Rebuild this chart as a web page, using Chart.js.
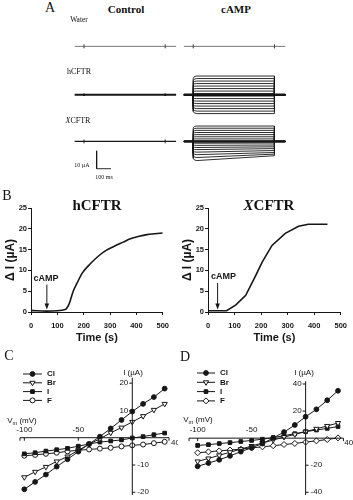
<!DOCTYPE html>
<html>
<head>
<meta charset="utf-8">
<script src="https://cdn.jsdelivr.net/npm/chart.js@4.4.1/dist/chart.umd.min.js"></script>
<style>
body{margin:0;width:353px;height:500px;background:#fff;position:relative;overflow:hidden;font-family:"Liberation Sans",Arial,sans-serif;color:#111}
canvas{position:absolute}
.t{position:absolute;white-space:nowrap;line-height:1;transform:translate(-50%,-50%)}
.s{font-family:"Liberation Serif","Times New Roman",serif}
.b{font-weight:bold}
sub{font-size:70%;vertical-align:-2px}
</style>
</head>
<body>
<canvas id="traces" width="240" height="170" style="left:60px;top:15px"></canvas>
<canvas id="timeH" width="174" height="145" style="left:1px;top:200px"></canvas>
<canvas id="timeX" width="175" height="145" style="left:178px;top:200px"></canvas>
<canvas id="ivC" width="178" height="155" style="left:0px;top:345px"></canvas>
<canvas id="ivD" width="175" height="155" style="left:178px;top:345px"></canvas>

<div class="t s" style="left:50px;top:8px;font-size:14px">A</div>
<div class="t s b" style="left:126px;top:9px;font-size:11px">Control</div>
<div class="t s b" style="left:236px;top:9px;font-size:11px">cAMP</div>
<div class="t s" style="left:79px;top:20px;font-size:7.5px">Water</div>
<div class="t s" style="left:79px;top:72px;font-size:8px">hCFTR</div>
<div class="t s" style="left:78px;top:121px;font-size:8px"><i>X</i>CFTR</div>
<div class="t s" style="left:82px;top:165px;font-size:6px">10 µA</div>
<div class="t s" style="left:104px;top:177px;font-size:6px">100 ms</div>

<div class="t s" style="left:7px;top:196px;font-size:14px">B</div>
<div class="t s b" style="left:97px;top:205px;font-size:15px">hCFTR</div>
<div class="t s b" style="left:269px;top:205px;font-size:15px"><i>X</i>CFTR</div>

<div class="t s" style="left:9px;top:356px;font-size:14px">C</div>
<div class="t s" style="left:185px;top:357px;font-size:14px">D</div>
<div class="t" style="left:133px;top:373px;font-size:8px">I (µA)</div>
<div class="t" style="left:304px;top:373px;font-size:8px">I (µA)</div>
<div class="t" style="left:22px;top:422px;font-size:8px">V<sub>m</sub> (mV)</div>
<div class="t" style="left:198px;top:421px;font-size:8px">V<sub>m</sub> (mV)</div>

<script>
// ---- panel A: voltage-clamp sweeps (ms, µA) ----
var sweepMs = [0, 706];
var pulseMs = [65, 630];
var hcftrStart = [10.5, 9.1, 7.7, 6.3, 4.9, 3.5, 2.1, 0.7, -0.7, -2.1, -3.5, -4.9, -6.3, -7.7, -9.1, -10.5];
var hcftrEnd   = [10.5, 9.1, 7.7, 6.3, 4.9, 3.5, 2.1, 0.7, -0.7, -2.1, -3.5, -4.9, -6.3, -7.7, -9.1, -10.5];
var xcftrStart = [8.6, 7.4, 6.2, 5.0, 3.8, 2.6, 1.4, 0.2, -1.0, -2.2, -3.4, -4.6, -6.0, -7.4, -9.0, -10.7];
var xcftrEnd   = [8.6, 7.4, 6.2, 5.0, 3.8, 2.6, 1.4, 0.2, -0.9, -2.0, -3.0, -4.0, -5.1, -6.2, -7.1, -8.0];
var scaleBarUA = 10;
var scaleBarMs = 100;

// ---- panel B: current vs time ----
var hcftrTime = [0, 60, 130, 145, 160, 175, 195, 225, 255, 285, 316, 350, 377, 410, 440, 470, 500];
var hcftrCurrent = [0.4, 0.2, 0.6, 2.0, 5.0, 7.0, 9.4, 11.6, 13.4, 14.8, 15.8, 16.8, 17.6, 18.2, 18.6, 18.8, 19.0];
var xcftrTime = [0, 70, 105, 142, 179, 204, 241, 291, 341, 378, 450];
var xcftrCurrent = [0.3, 0.3, 1.7, 4.0, 8.7, 12.0, 16.0, 18.9, 20.6, 21.1, 21.1];
var timeTicks = [0, 100, 200, 300, 400, 500];
var currentTicks = [0, 5, 10, 15, 20, 25];

// ---- panels C and D: I-V relations ----
var vm = [-100, -90, -80, -70, -60, -50, -40, -30, -20, -10, 0, 10, 20, 30];
var ionNames = ['Cl', 'Br', 'I', 'F'];
var clC = [-18.9, -16.2, -13.5, -10.6, -7.9, -5.1, -2.3, 0.4, 3.4, 6.5, 9.6, 12.4, 14.9, 18.0];
var brC = [-14.5, -12.5, -10.7, -8.7, -6.9, -4.6, -2.4, -0.4, 1.8, 3.7, 5.8, 7.9, 10.2, 12.4];
var iC  = [-5.9, -5.5, -4.9, -4.4, -3.9, -3.1, -2.3, -1.6, -1.2, -0.8, -0.1, 0.4, 1.1, 1.7];
var fC  = [-6.6, -6.3, -5.9, -5.5, -5.0, -4.6, -4.3, -4.0, -3.7, -3.2, -2.8, -2.5, -2.0, -1.5];
var clD = [-20.8, -18.4, -16.0, -13.1, -10.0, -7.1, -4.0, 0.1, 4.5, 9.7, 15.8, 21.3, 28.0, 35.0];
var brD = [-17.2, -15.0, -12.7, -10.4, -8.1, -5.8, -3.6, -1.4, 0.8, 2.8, 4.8, 6.9, 9.0, 11.2];
var iD  = [-5.4, -4.8, -4.0, -3.3, -2.5, -1.7, -0.8, 0.4, 1.8, 3.3, 4.8, 6.0, 7.2, 8.6];
var fD  = [-10.8, -10.1, -9.4, -8.8, -8.1, -7.2, -6.4, -5.6, -4.7, -3.9, -2.9, -2.0, -1.0, 0.2];
var vTickLabels = [-100, -50];
var iTickLabelsC = [20, 10, -10, -20];
var iTickLabelsD = [40, 20, -20, -40];
var vEndLabel = 40;

var INK = '#161616';
var off = {legend: {display: false}, tooltip: {enabled: false}};

// ---------- A ----------
var ctrlOffset = 67, campOffset = 827;
var rowBase = {water: -14.74, h: -41.84, x: -67.9};

function flat(offset, base) {
  return [{x: offset + sweepMs[0], y: base}, {x: offset + sweepMs[1], y: base}];
}
function step(offset, base, a, b) {
  var on = offset + pulseMs[0], end = offset + pulseMs[1];
  return [
    {x: offset + sweepMs[0], y: base},
    {x: on, y: base},
    {x: on, y: base + a * 0.88},
    {x: on + 8, y: base + a * 0.97},
    {x: on + 25, y: base + a},
    {x: end, y: base + b},
    {x: end, y: base},
    {x: offset + sweepMs[1], y: base}
  ];
}
function marks(offset, base) {
  return [{x: offset + pulseMs[0], y: base}, {x: offset + pulseMs[1], y: base}];
}

var aSets = [];
function addLine(data, w, col, extra) {
  var d = {data: data, borderColor: col || INK, borderWidth: w, pointRadius: 0, fill: false, clip: false};
  for (var k in extra) d[k] = extra[k];
  aSets.push(d);
}
var tick = {showLine: false, pointStyle: 'line', pointRotation: 90, pointRadius: 2, pointBorderWidth: 1, pointBorderColor: '#333'};
// water rows
addLine(flat(ctrlOffset, rowBase.water), 0.8, '#555');
addLine(flat(campOffset, rowBase.water), 0.8, '#555');
addLine(marks(ctrlOffset, rowBase.water), 0, '#333', tick);
addLine(marks(campOffset, rowBase.water), 0, '#333', tick);
// control rows
addLine(flat(ctrlOffset, rowBase.h), 2);
addLine(flat(ctrlOffset, rowBase.x), 1.3);
addLine(marks(ctrlOffset, rowBase.h), 0, INK, {showLine: false, pointRadius: 1.3, pointBackgroundColor: INK, pointBorderWidth: 0});
addLine(marks(ctrlOffset, rowBase.x), 0, INK, tick);
// cAMP step families
hcftrStart.forEach(function (a, i) { addLine(step(campOffset, rowBase.h, a, hcftrEnd[i]), 0.9); });
xcftrStart.forEach(function (a, i) { addLine(step(campOffset, rowBase.x, a, xcftrEnd[i]), 0.9); });
addLine(flat(campOffset, rowBase.h), 2.6);
addLine(flat(campOffset, rowBase.x), 2.6);
// scale bar
var sbX = 220, sbY = -83.16;
addLine([{x: sbX, y: sbY + scaleBarUA}, {x: sbX, y: sbY}, {x: sbX + scaleBarMs, y: sbY}], 0.9);

new Chart(document.getElementById('traces'), {
  type: 'line',
  data: {datasets: aSets},
  options: {
    responsive: false, animation: false, events: [],
    layout: {padding: 0},
    scales: {
      x: {type: 'linear', display: false, min: 0, max: 1600},
      y: {type: 'linear', display: false, min: -89.47, max: 0}
    },
    elements: {line: {tension: 0}},
    plugins: off
  }
});

// ---------- B ----------
var campArrow = {
  id: 'campArrow',
  afterDatasetsDraw: function (chart, args, o) {
    var ctx = chart.ctx, x = chart.scales.x, y = chart.scales.y;
    var px = x.getPixelForValue(o.at);
    var top = y.getPixelForValue(o.from), tip = y.getPixelForValue(o.to);
    ctx.save();
    ctx.strokeStyle = INK; ctx.fillStyle = INK; ctx.lineWidth = 1;
    ctx.beginPath(); ctx.moveTo(px, top); ctx.lineTo(px, tip - 4); ctx.stroke();
    ctx.beginPath(); ctx.moveTo(px, tip); ctx.lineTo(px - 2.3, tip - 6); ctx.lineTo(px + 2.3, tip - 6); ctx.closePath(); ctx.fill();
    ctx.font = 'bold 9px "Liberation Sans", Arial';
    ctx.textAlign = 'center'; ctx.textBaseline = 'middle';
    ctx.fillText('cAMP', x.getPixelForValue(o.textAt), y.getPixelForValue(o.textY));
    ctx.restore();
  }
};

function timeChart(id, t, v, padRight, arrow, smooth) {
  var tickFont = {family: '"Liberation Sans", Arial', size: 7.5, weight: 'bold'};
  new Chart(document.getElementById(id), {
    type: 'line',
    data: {datasets: [{
      data: t.map(function (tt, i) { return {x: tt, y: v[i]}; }),
      borderColor: INK, borderWidth: 1.6, pointRadius: 0, fill: false,
      cubicInterpolationMode: smooth ? 'monotone' : 'default', tension: 0
    }]},
    options: {
      responsive: false, animation: false, events: [],
      layout: {padding: {left: 2.3, right: padRight, top: 8, bottom: 0}},
      scales: {
        x: {
          type: 'linear', min: 0, max: 500,
          afterFit: function (s) { s.height = 33; },
          afterBuildTicks: function (s) { s.ticks = timeTicks.map(function (x) { return {value: x}; }); },
          ticks: {font: tickFont, color: INK, padding: 6, maxRotation: 0},
          grid: {drawOnChartArea: false, tickLength: 3, color: INK},
          border: {color: INK, width: 1},
          title: {display: true, text: 'Time (s)', color: INK, padding: 0,
                  font: {family: '"Liberation Sans", Arial', size: 11, weight: 'bold'}}
        },
        y: {
          type: 'linear', min: 0, max: 25,
          afterBuildTicks: function (s) { s.ticks = currentTicks.map(function (y) { return {value: y}; }); },
          ticks: {font: tickFont, color: INK, padding: 1, autoSkip: false},
          grid: {drawOnChartArea: false, tickLength: 3, color: INK},
          border: {color: INK, width: 1},
          title: {display: true, text: 'Δ I (µA)', color: INK, padding: 0,
                  font: {family: '"Liberation Sans", Arial', size: 12, weight: 'bold'}}
        }
      },
      plugins: {legend: {display: false}, tooltip: {enabled: false}, campArrow: arrow}
    },
    plugins: [campArrow]
  });
}
timeChart('timeH', hcftrTime, hcftrCurrent, 7, {at: 60, from: 6.6, to: 0.6, textAt: 57, textY: 8.1}, true);
timeChart('timeX', xcftrTime, xcftrCurrent, 12, {at: 36, from: 7.0, to: 0.6, textAt: 58, textY: 8.6}, false);

// ---------- C, D ----------
var crossAxes = {
  id: 'crossAxes',
  afterDraw: function (chart, args, o) {
    var ctx = chart.ctx, x = chart.scales.x, y = chart.scales.y;
    var x0 = x.getPixelForValue(0), y0 = y.getPixelForValue(0);
    ctx.save();
    ctx.strokeStyle = INK; ctx.fillStyle = INK; ctx.lineWidth = 1;
    ctx.beginPath();
    ctx.moveTo(x.left, y0); ctx.lineTo(x.right, y0);
    ctx.moveTo(x0, y.top); ctx.lineTo(x0, y.bottom);
    o.vTicks.forEach(function (v) { var p = x.getPixelForValue(v); ctx.moveTo(p, y0); ctx.lineTo(p, y0 + 3); });
    ctx.moveTo(x.left, y0); ctx.lineTo(x.left, y0 + 3);
    ctx.moveTo(x.right, y0); ctx.lineTo(x.right, y0 + 3);
    o.iTicks.forEach(function (v) {
      var p = y.getPixelForValue(v);
      ctx.moveTo(x0, p); ctx.lineTo(v > 0 ? x0 - 3 : x0 + 3, p);
    });
    ctx.stroke();
    ctx.font = '8px "Liberation Sans", Arial';
    ctx.textBaseline = 'middle';
    ctx.textAlign = 'center';
    o.vTicks.forEach(function (v) { ctx.fillText(String(v), x.getPixelForValue(v), y0 - 8); });
    ctx.fillText(String(o.vEnd), x.getPixelForValue(o.vEnd), y0 + 5);
    o.iTicks.forEach(function (v) {
      var p = y.getPixelForValue(v);
      if (v > 0) { ctx.textAlign = 'right'; ctx.fillText(String(v), x0 - 4, p); }
      else { ctx.textAlign = 'left'; ctx.fillText(String(v), x0 + 5, p); }
    });
    ctx.restore();
  }
};

var ivLegend = {
  id: 'ivLegend',
  afterDraw: function (chart, args, o) {
    var ctx = chart.ctx;
    chart.data.datasets.forEach(function (ds, i) {
      var y = o.top + i * o.gap, cx = o.left + o.len / 2;
      ctx.save();
      ctx.strokeStyle = INK; ctx.lineWidth = 1;
      ctx.beginPath(); ctx.moveTo(o.left, y); ctx.lineTo(o.left + o.len, y); ctx.stroke();
      ctx.fillStyle = ds.pointBackgroundColor;
      if (Chart.helpers && Chart.helpers.drawPoint) {
        Chart.helpers.drawPoint(ctx, {pointStyle: ds.pointStyle, rotation: ds.pointRotation, radius: ds.pointRadius, borderWidth: 1}, cx, y);
      } else {
        ctx.beginPath(); ctx.arc(cx, y, ds.pointRadius, 0, Math.PI * 2); ctx.fill(); ctx.stroke();
      }
      ctx.fillStyle = INK;
      ctx.font = 'bold 8px "Liberation Sans", Arial';
      ctx.textAlign = 'left'; ctx.textBaseline = 'middle';
      ctx.fillText(ds.label, o.left + o.len + 5, y);
      ctx.restore();
    });
  }
};

function ivChart(id, values, fStyle, pad, xr, yr, axes, legend) {
  var styles = [
    {ps: 'circle', rot: 0, r: 2.4, fill: INK},
    {ps: 'triangle', rot: 180, r: 3, fill: '#fff'},
    {ps: 'rect', rot: 0, r: 2.6, fill: INK},
    {ps: fStyle, rot: 0, r: fStyle === 'rectRot' ? 3 : 2.5, fill: '#fff'}
  ];
  new Chart(document.getElementById(id), {
    type: 'scatter',
    data: {datasets: values.map(function (arr, k) {
      var st = styles[k];
      return {
        label: ionNames[k],
        data: vm.map(function (v, i) { return {x: v, y: arr[i]}; }),
        showLine: true, borderColor: INK, borderWidth: 1, clip: false,
        pointStyle: st.ps, pointRotation: st.rot, pointRadius: st.r,
        pointBackgroundColor: st.fill, pointBorderColor: INK, pointBorderWidth: 1
      };
    })},
    options: {
      responsive: false, animation: false, events: [],
      layout: {padding: pad},
      scales: {
        x: {type: 'linear', display: false, min: xr[0], max: xr[1]},
        y: {type: 'linear', display: false, min: yr[0], max: yr[1]}
      },
      plugins: {legend: {display: false}, tooltip: {enabled: false}, crossAxes: axes, ivLegend: legend}
    },
    plugins: [crossAxes, ivLegend]
  });
}

ivChart('ivC', [clC, brC, iC, fC], 'circle',
  {left: 20, right: 9, top: 32.7, bottom: 0.6}, [-104, 34], [-21, 22],
  {vTicks: vTickLabels, vEnd: vEndLabel, iTicks: iTickLabelsC},
  {left: 23, len: 19, top: 29, gap: 8.8});
ivChart('ivD', [clD, brD, iD, fD], 'rectRot',
  {left: 11, right: 9.6, top: 36.3, bottom: 2.3}, [-108, 35], [-42, 42],
  {vTicks: vTickLabels, vEnd: vEndLabel, iTicks: iTickLabelsD},
  {left: 19, len: 18, top: 28, gap: 9.3});
</script>
</body>
</html>
